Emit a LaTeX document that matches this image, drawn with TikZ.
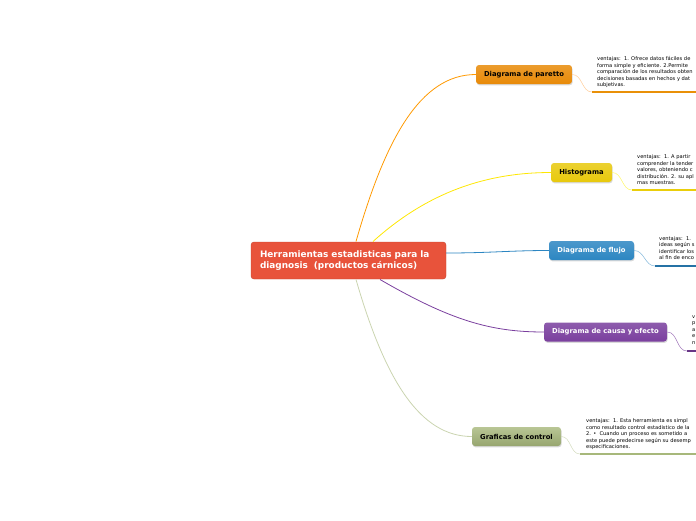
\documentclass[tikz,border=0pt]{standalone}
\usepackage{fontspec}
\setmainfont{DejaVu Sans}
\usetikzlibrary{shadows}

\definecolor{rootred}{HTML}{E8533B}
\definecolor{parorange}{HTML}{E88A08}
\definecolor{histyellow}{HTML}{E8C90C}
\definecolor{flowblue}{HTML}{2C86C2}
\definecolor{causepurple}{HTML}{7A3F9E}
\definecolor{ctrlgreen}{HTML}{A7B87B}

\begin{document}
\begin{tikzpicture}[x=1pt,y=-1pt,
  root/.style={rounded corners=3pt, fill=rootred, draw=rootred!85!black, line width=0.4pt,
    text=white, text width=177pt, inner xsep=9pt, minimum height=37pt, align=left,
    font=\fontsize{8.9}{11.5}\selectfont\bfseries},
  topic/.style={rounded corners=3pt, minimum height=19pt, inner xsep=0pt,
    font=\fontsize{6.8}{7}\selectfont\bfseries,
    drop shadow={shadow xshift=0.6pt, shadow yshift=-1.3pt, opacity=0.3}},
  note/.style={anchor=north west, align=left, inner sep=0pt,
    font=\fontsize{5.15}{6.5}\selectfont},
  link/.style={line width=0.8pt},
  underline/.style={line width=2pt}
]
  \useasboundingbox (0,0) rectangle (696,520);
  \clip (0,0) rectangle (696,520);

  % Links from the root
  \node[root] (root) at (348.5,260.5) {Herramientas estadisticas para la\\diagnosis\ \ (productos cárnicos)};

  % Topics
  \node[topic, minimum width=96pt, top color=parorange!85!white, bottom color=parorange] (pareto) at (524,74.5) {Diagrama de paretto};
  \node[topic, minimum width=61pt, top color=histyellow!85!white, bottom color=histyellow] (hist) at (581.5,172.5) {Histograma};
  \node[topic, minimum width=85pt, top color=flowblue!85!white, bottom color=flowblue, text=white] (flujo) at (591.5,250.5) {Diagrama de flujo};
  \node[topic, minimum width=123pt, top color=causepurple!85!white, bottom color=causepurple, text=white] (causa) at (605.5,332) {Diagrama de causa y efecto};
  \node[topic, minimum width=89pt, top color=ctrlgreen!80!white, bottom color=ctrlgreen!90!black] (control) at (516.5,436.5) {Graficas de control};

  % Curves
  \draw[link, draw=orange!80!yellow] (356,241.5) .. controls (385,140) and (420,74.5) .. (pareto.west);
  \draw[link, draw=yellow!90!orange] (373,241.5) .. controls (430,190) and (490,172.5) .. (hist.west);
  \draw[link, draw=flowblue] (root.east |- 0,253) .. controls (490,253) and (510,250.5) .. (flujo.west);
  \draw[link, draw=causepurple] (380,279.5) .. controls (450,320) and (490,332) .. (causa.west);
  \draw[link, draw=ctrlgreen!60!white] (356,279.5) .. controls (385,380) and (420,436.5) .. (control.west);

  % Notes
  \coordinate (pu) at (592,92);   \coordinate (pe) at (700,92);
  \coordinate (hu) at (632,190);  \coordinate (he) at (700,190);
  \coordinate (fu) at (655,266);  \coordinate (fe) at (700,266);
  \coordinate (cu) at (687,351);  \coordinate (ce) at (700,351);
  \coordinate (gu) at (580,454);  \coordinate (ge) at (700,454);

  \draw[link, draw=orange!40!white, line width=0.5pt] (pareto.east) to[out=0,in=180] (pu);
  \draw[underline, draw=parorange!95!yellow] (pu) -- (pe);
  \draw[link, draw=yellow!60!white, line width=0.5pt] (hist.east) to[out=0,in=180] (hu);
  \draw[underline, draw=histyellow!90!yellow] (hu) -- (he);
  \draw[link, draw=flowblue!60!white, line width=0.5pt] (flujo.east) to[out=0,in=180] (fu);
  \draw[underline, draw=flowblue!85!black] (fu) -- (fe);
  \draw[link, draw=causepurple!70!white, line width=0.5pt] (causa.east) to[out=0,in=180] (cu);
  \draw[underline, draw=causepurple!85!black] (cu) -- (ce);
  \draw[link, draw=ctrlgreen!50!white, line width=0.5pt] (control.east) to[out=0,in=180] (gu);
  \draw[underline, draw=ctrlgreen] (gu) -- (ge);

  \node[note] (paretonote) at (597,56.5) {ventajas:\ \ 1. Ofrece datos fáciles de\\forma simple y eficiente. 2.Permite\\comparación de los resultados obten\\decisiones basadas en hechos y dat\\subjetivas.};
  \node[note] (histnote) at (637,154.5) {ventajas:\ \ 1. A partir\\comprender la tender\\valores, obteniendo c\\distribución. 2. su apl\\mas muestras.};
  \node[note] (flujonote) at (659,236) {ventajas:\ \ 1.\\ideas según s\\identificar los\\al fin de enco};
  \node[note] (causanote) at (692,315) {v\\p\\a\\e\\n};
  \node[note] (controlnote) at (586,418.5) {ventajas:\ \ 1. Esta herramienta es simpl\\como resultado control estadistico de la\\2. •\ \ Cuando un proceso es sometido a\\este puede predecirse según su desemp\\especificaciones.};
\end{tikzpicture}
\end{document}
